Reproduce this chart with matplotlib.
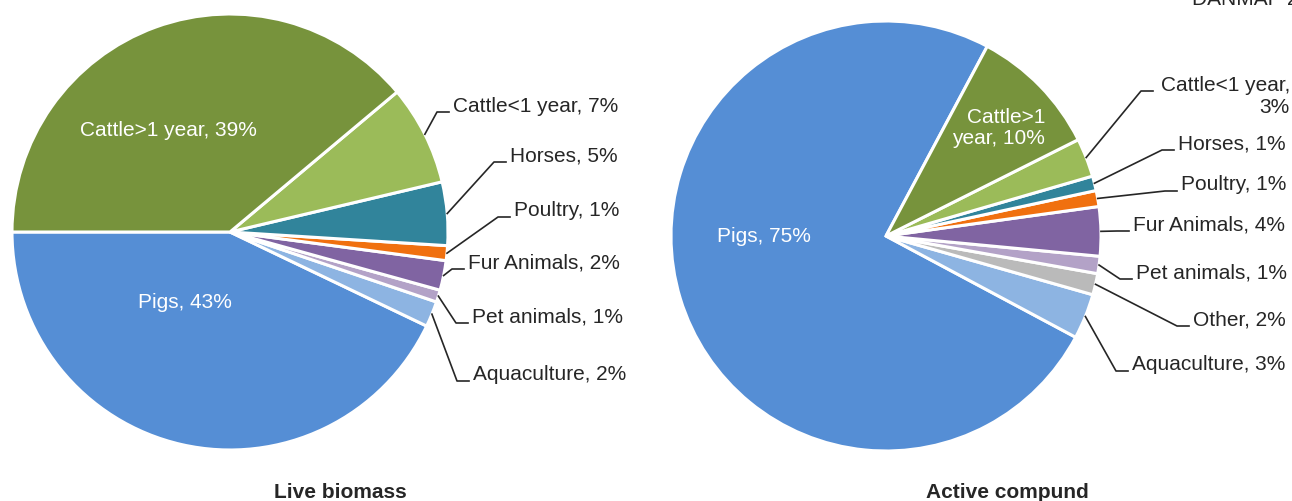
import numpy as np
import matplotlib.pyplot as plt

plt.rcParams['font.family'] = ['Liberation Sans', 'DejaVu Sans']

# Live biomass (procent)
bio_names = ["Pigs", "Aquaculture", "Pet animals", "Fur Animals", "Poultry",
             "Horses", "Cattle<1 year", "Cattle>1 year"]
bio_vals = [42.9, 1.9, 0.9, 2.2, 1.1, 4.7, 7.4, 38.9]

# Active compound (procent)
act_names = ["Pigs", "Aquaculture", "Other", "Pet animals", "Fur Animals",
             "Poultry", "Horses", "Cattle<1 year", "Cattle>1 year"]
act_vals = [75.0, 3.4, 1.6, 1.3, 3.7, 1.2, 1.1, 2.9, 9.8]

colors = {
    "Pigs": "#558ED5",
    "Aquaculture": "#8DB4E2",
    "Other": "#BABABA",
    "Pet animals": "#B3A2C7",
    "Fur Animals": "#8064A2",
    "Poultry": "#F0700F",
    "Horses": "#31849B",
    "Cattle<1 year": "#9BBB59",
    "Cattle>1 year": "#77933C",
}

TXT = "#262626"
FS = 15
LINE_H = 22

fig = plt.figure(figsize=(12.92, 5.01), dpi=100)
ax = fig.add_axes([0, 0, 1, 1])


def put_text(lines, x, y, ha, color, centered):
    n = len(lines)
    for i, s in enumerate(lines):
        off = (i - (n - 1) / 2) * LINE_H if centered else i * LINE_H
        ax.text(x, y + off, s, ha=ha, va="center", fontsize=FS, color=color)


def draw_pie(names, vals, center, radius, start, inside, outside, wraps):
    wedges, _ = ax.pie(vals, colors=[colors[n] for n in names], center=center,
                       radius=radius, startangle=start, counterclock=False,
                       wedgeprops=dict(edgecolor="white", linewidth=2.2))
    for w, n, v in zip(wedges, names, vals):
        lab = f"{n}, {v:.0f}%"
        lines = wraps.get(n, [lab])
        if n in inside:
            x, y, ha = inside[n]
            put_text(lines, x, y, ha, "white", True)
        else:
            x, y, ha, lead_x = outside[n]
            mid = np.deg2rad((w.theta1 + w.theta2) / 2)
            px = center[0] + radius * np.cos(mid)
            py = center[1] + radius * np.sin(mid)
            ey = y + 6
            ax.plot([px, lead_x - 16, lead_x - 4], [py, ey, ey], color=TXT, lw=1.2)
            put_text(lines, x, y, ha, TXT, False)


# Lijevi graf
draw_pie(bio_names, bio_vals, (230, 232), 218, 180,
         inside={"Cattle>1 year": (168, 130, "center"), "Pigs": (185, 302, "center")},
         outside={"Cattle<1 year": (453, 106, "left", 453),
                  "Horses": (510, 156, "left", 510),
                  "Poultry": (514, 211, "left", 514),
                  "Fur Animals": (468, 263, "left", 468),
                  "Pet animals": (472, 317, "left", 472),
                  "Aquaculture": (473, 375, "left", 473)},
         wraps={})

# Desni graf
draw_pie(act_names, act_vals, (886, 236), 215, -61.9,
         inside={"Cattle>1 year": (1045, 128, "right"), "Pigs": (764, 236, "center")},
         outside={"Cattle<1 year": (1290, 85, "right", 1157),
                  "Horses": (1178, 144, "left", 1178),
                  "Poultry": (1181, 185, "left", 1181),
                  "Fur Animals": (1133, 225, "left", 1133),
                  "Pet animals": (1136, 273, "left", 1136),
                  "Other": (1193, 320, "left", 1193),
                  "Aquaculture": (1132, 365, "left", 1132)},
         wraps={"Cattle<1 year": ["Cattle<1 year,", "3%"],
                "Cattle>1 year": ["Cattle>1", "year, 10%"]})

ax.text(340, 492, "Live biomass", ha="center", va="center", fontsize=FS,
        fontweight="bold", color=TXT)
ax.text(1007, 492, "Active compund", ha="center", va="center", fontsize=FS,
        fontweight="bold", color=TXT)
ax.text(1192, 5, "DANMAP 2016", ha="left", va="baseline", fontsize=FS, color=TXT)

ax.set_xlim(0, 1292)
ax.set_ylim(501, 0)
ax.set_aspect("auto")
ax.axis("off")

fig.savefig("out.png", dpi=100)
